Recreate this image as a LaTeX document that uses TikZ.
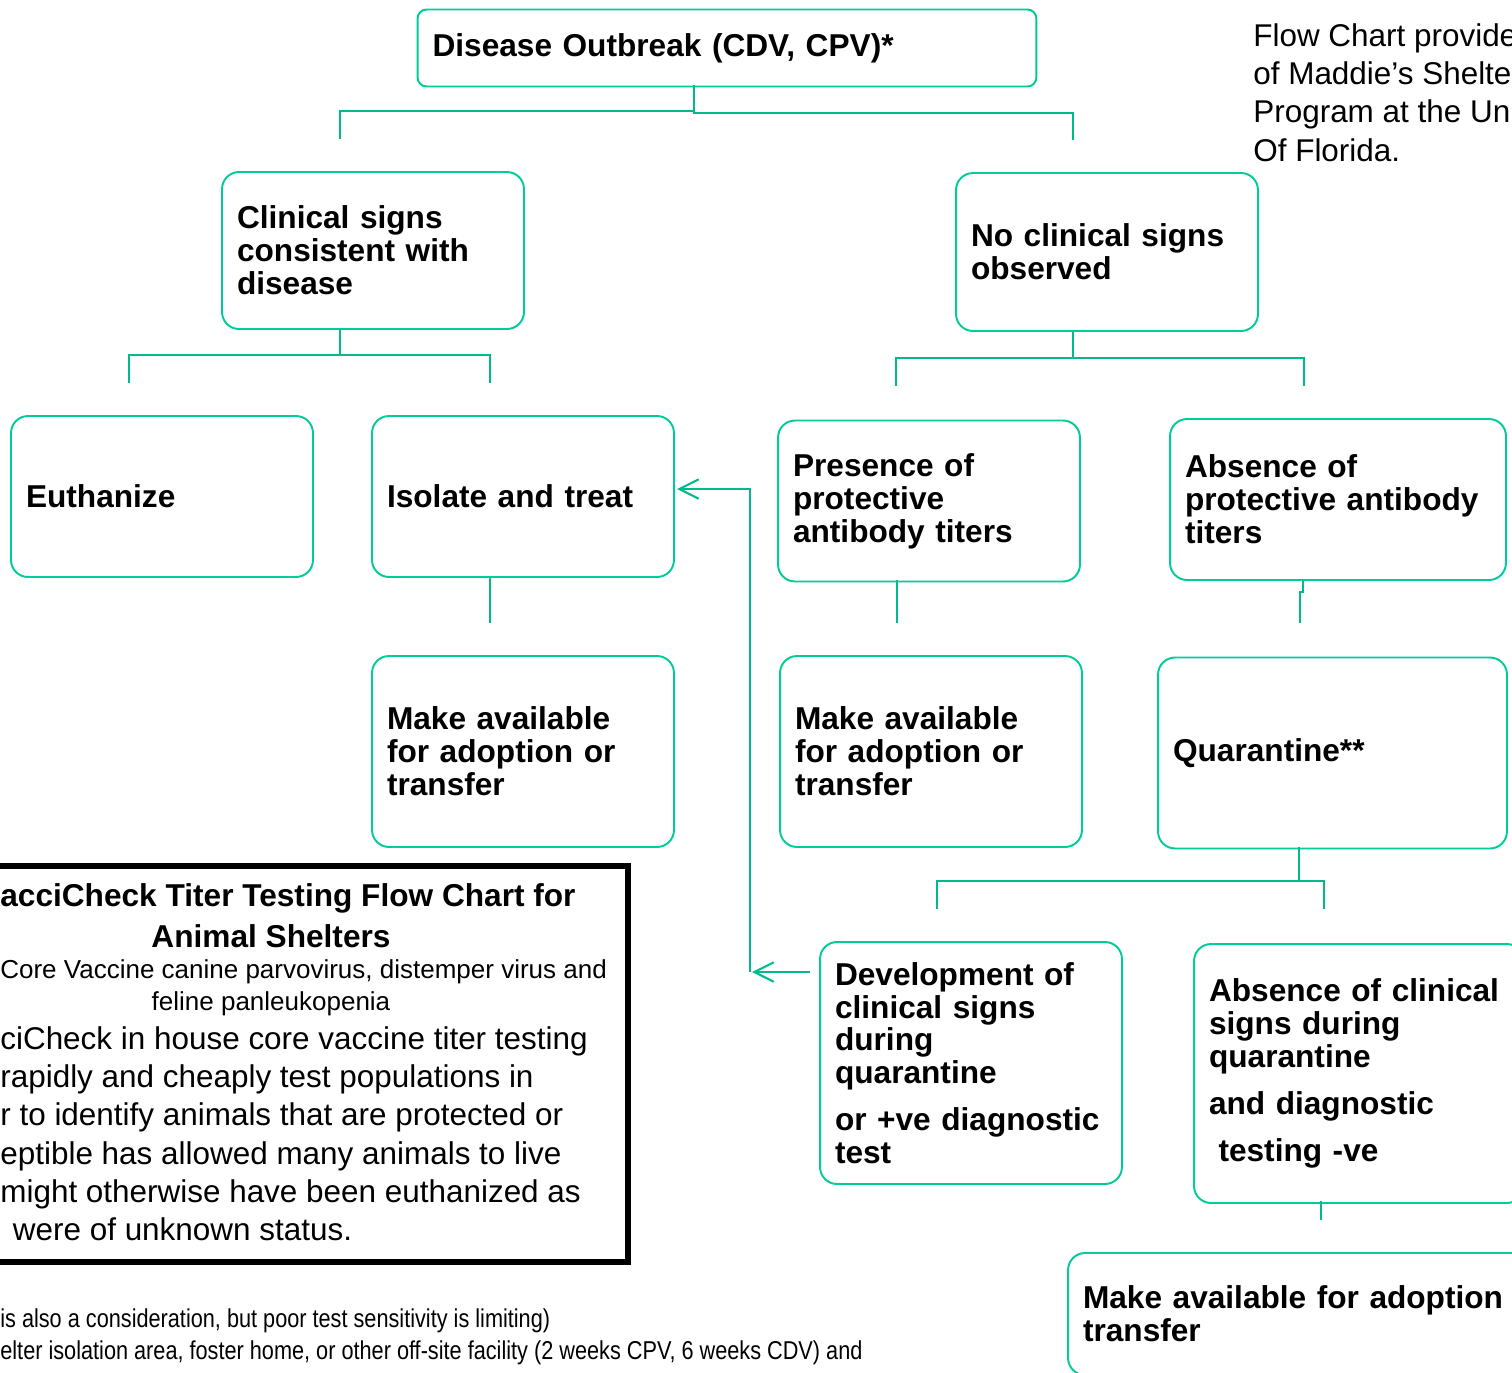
\documentclass[tikz,border=0pt]{standalone}
\usepackage{fontspec}
\setmainfont{Liberation Sans}
\newfontfamily\narrowsans[FakeStretch=0.84]{Liberation Sans}
\usetikzlibrary{arrows.meta}
\definecolor{mint}{RGB}{0,204,153}
\definecolor{mintline}{RGB}{0,186,140}

\begin{document}
\begin{tikzpicture}[x=0.02cm,y=-0.02cm,
  stepbox/.style={draw=mint,line width=1.1pt,rounded corners=0.34cm,align=left,
    inner xsep=0.3cm,inner ysep=0pt,font=\fontsize{18}{18.7}\selectfont\bfseries},
  link/.style={draw=mintline,line width=1.2pt},
  back/.style={-{Straight Barb[length=11pt,width=11pt]}},
  plain/.style={inner sep=0pt,font=\fontsize{17.9}{21.8}\selectfont}]
   \useasboundingbox (0,0) rectangle (1512,1373);
   \clip (0,0) rectangle (1512,1373);
   \fill[white] (0,0) rectangle (1512,1373);

   \node[stepbox,text width=11.78cm,minimum height=1.54cm,rounded corners=0.18cm] (outbreak) at (727,48) {Disease Outbreak (CDV, CPV)*};
   \node[stepbox,text width=5.44cm,minimum height=3.14cm] (signs) at (373,250.5) {Clinical signs\\consistent with\\disease};
   \node[stepbox,text width=5.44cm,minimum height=3.16cm] (nosigns) at (1107,252) {No clinical signs\\observed};
   \node[stepbox,text width=5.44cm,minimum height=3.22cm] (euth) at (162,496.5) {Euthanize};
   \node[stepbox,text width=5.44cm,minimum height=3.22cm] (isolate) at (523,496.5) {Isolate and treat};
   \node[stepbox,text width=5.44cm,minimum height=3.22cm] (protect) at (929,501) {Presence of\\protective\\antibody titers};
   \node[stepbox,text width=6.12cm,minimum height=3.22cm] (noprotect) at (1338,499.5) {Absence of\\protective antibody\\titers};
   \node[stepbox,text width=5.44cm,minimum height=3.82cm] (adoptA) at (523,751.5) {Make available\\for adoption or\\transfer};
   \node[stepbox,text width=5.44cm,minimum height=3.82cm] (adoptB) at (931,751.5) {Make available\\for adoption or\\transfer};
   \node[stepbox,text width=6.38cm,minimum height=3.82cm] (quarantine) at (1332.5,753) {Quarantine**};
   \node[stepbox,text width=5.44cm,minimum height=4.84cm] (develop) at (971,1063) {Development of\\clinical signs\\during\\quarantine\\[8pt]or +ve diagnostic\\test};
   \node[stepbox,text width=6.0cm,minimum height=5.18cm] (clear) at (1359,1073.5) {Absence of clinical\\signs during\\quarantine\\[8pt]and diagnostic\\[8pt]\hspace{0.3em}testing -ve};
   \node[stepbox,text width=10.04cm,minimum height=2.44cm] (adoptC) at (1334,1314) {Make available for adoption or\\transfer};

   \coordinate (outstem) at (694,85);
   \coordinate (signstop) at (340,139);
   \coordinate (nosignstop) at (1073,140);
   \draw[link] (outstem) -- ++(0,26) -| (signstop);
   \draw[link] (outstem) -- ++(0,28) -| (nosignstop);

   \coordinate (signsstem) at (340,329);
   \coordinate (euthtop) at (129,383);
   \coordinate (isolatetop) at (490,383);
   \draw[link] (signsstem) -- ++(0,26) -| (euthtop);
   \draw[link] (signsstem) -- ++(0,26) -| (isolatetop);

   \coordinate (nosignsstem) at (1073,331);
   \coordinate (protecttop) at (896,386);
   \coordinate (noprotecttop) at (1304,386);
   \draw[link] (nosignsstem) -- ++(0,27) -| (protecttop);
   \draw[link] (nosignsstem) -- ++(0,27) -| (noprotecttop);

   \coordinate (isolatestem) at (490,577);
   \coordinate (adoptAtop) at (490,623);
   \draw[link] (isolatestem) -- (adoptAtop);
   \coordinate (protectstem) at (897,580);
   \coordinate (adoptBtop) at (897,623);
   \draw[link] (protectstem) -- (adoptBtop);
   \coordinate (noprotectstem) at (1303,580);
   \coordinate (quarantinetop) at (1300,623);
   \draw[link] (noprotectstem) -- ++(0,12) -| (quarantinetop);

   \coordinate (quarantinestem) at (1299,847);
   \coordinate (developtop) at (937,909);
   \coordinate (cleartop) at (1324,909);
   \draw[link] (quarantinestem) -- ++(0,34) -| (developtop);
   \draw[link] (quarantinestem) -- ++(0,34) -| (cleartop);

   \coordinate (clearstem) at (1321,1201);
   \coordinate (adoptCtop) at (1321,1220);
   \draw[link] (clearstem) -- (adoptCtop);

   \coordinate (developout) at (810,972);
   \coordinate (developback) at (752,972);
   \coordinate (loopfoot) at (750,972);
   \coordinate (isolatein) at (677,489);
   \draw[link,back] (developout) -- (developback);
   \draw[link,back] (loopfoot) |- (isolatein);

   \node[draw,line width=3.4pt,minimum width=14.28cm,minimum height=7.92cm] (note) at (271,1064) {};
   \node[anchor=west,inner sep=0pt,font=\fontsize{18}{18.7}\selectfont\bfseries] (notetitle) at (0,898) {acciCheck Titer Testing Flow Chart for};
   \node[inner sep=0pt,font=\fontsize{18}{18.7}\selectfont\bfseries] (notetitleb) at (271,936) {Animal Shelters};
   \node[anchor=west,inner sep=0pt,font=\fontsize{14.8}{18}\selectfont] (notesub) at (0,972) {Core Vaccine canine parvovirus, distemper virus and};
   \node[inner sep=0pt,font=\fontsize{14.8}{18}\selectfont] (notesubb) at (271,1004) {feline panleukopenia};
   \node[plain,anchor=north west,align=left] (notebody) at (0,1026) {ciCheck in house core vaccine titer testing\\rapidly and cheaply test populations in\\r to identify animals that are protected or\\eptible has allowed many animals to live\\might otherwise have been euthanized as\\\hspace{0.4em}were of unknown status.};

   \node[plain,anchor=north west,align=left] (credit) at (1253,23) {Flow Chart provide\\of Maddie’s Shelte\\Program at the Un\\Of Florida.};

   \node[anchor=west,inner sep=0pt,font=\narrowsans\fontsize{14.7}{18}\selectfont] (footA) at (0,1321) {is also a consideration, but poor test sensitivity is limiting)};
   \node[anchor=west,inner sep=0pt,font=\narrowsans\fontsize{14.7}{18}\selectfont] (footB) at (0,1353) {elter isolation area, foster home, or other off-site facility (2 weeks CPV, 6 weeks CDV) and};
\end{tikzpicture}
\end{document}
